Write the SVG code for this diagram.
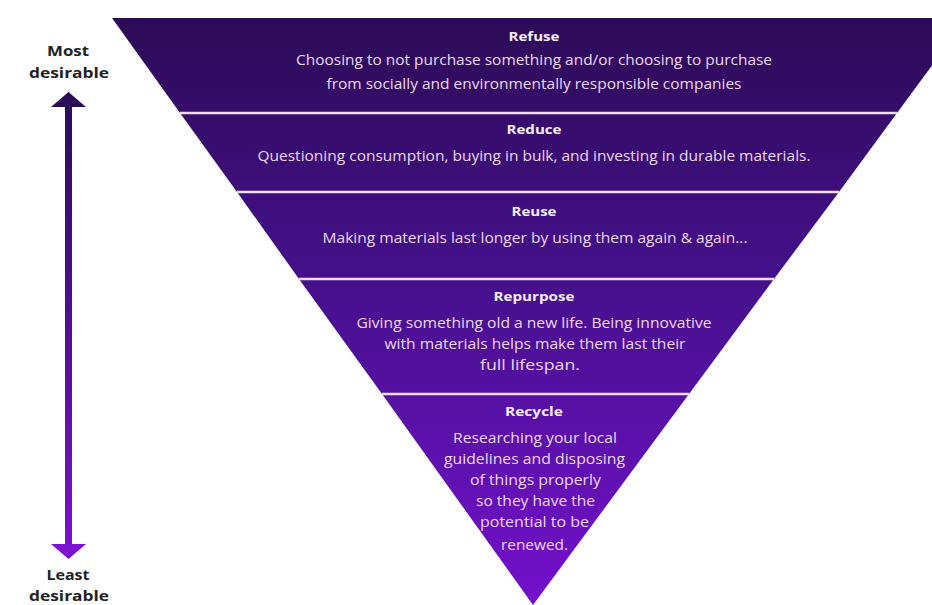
<svg xmlns="http://www.w3.org/2000/svg" width="932" height="605" viewBox="0 0 932 605">
<defs>
<linearGradient id="tri" gradientUnits="userSpaceOnUse" x1="0" y1="18" x2="0" y2="605">
<stop offset="0" stop-color="#2c0b57"/>
<stop offset="0.45" stop-color="#45108c"/>
<stop offset="1" stop-color="#7410cc"/>
</linearGradient>
<linearGradient id="arr" gradientUnits="userSpaceOnUse" x1="0" y1="92" x2="0" y2="560">
<stop offset="0" stop-color="#2c0b57"/>
<stop offset="1" stop-color="#7a12d0"/>
</linearGradient>
</defs>
<style>
.band{fill:url(#tri)}
.sep{stroke:#f2dcf2;stroke-width:2.5}
.t{font-family:"Open Sans","Liberation Sans",sans-serif;font-weight:700;font-size:13px;fill:#f6eef8;text-anchor:middle}
.b{font-family:"Open Sans","Liberation Sans",sans-serif;font-weight:500;font-size:14px;fill:#ecd8f0;text-anchor:middle}
.lab{font-family:"Open Sans","Liberation Sans",sans-serif;font-weight:700;font-size:14.5px;fill:#222;text-anchor:middle}
</style>
<rect width="932" height="605" fill="#ffffff"/>
<g id="refuse">
<polygon class="band" points="112,18 967,18 897,113 180,113"/>
<text class="t" x="534" y="41" textLength="51" lengthAdjust="spacingAndGlyphs">Refuse</text>
<text class="b" x="534" y="65" textLength="476" lengthAdjust="spacingAndGlyphs">Choosing to not purchase something and/or choosing to purchase</text>
<text class="b" x="534" y="89" textLength="415" lengthAdjust="spacingAndGlyphs">from socially and environmentally responsible companies</text>
</g>
<g id="reduce">
<polygon class="band" points="180,113 897,113 839,192 237,192"/>
<text class="t" x="534" y="134" textLength="55" lengthAdjust="spacingAndGlyphs">Reduce</text>
<text class="b" x="534" y="161" textLength="553" lengthAdjust="spacingAndGlyphs">Questioning consumption, buying in bulk, and investing in durable materials.</text>
</g>
<g id="reuse">
<polygon class="band" points="237,192 839,192 774,279 299,279"/>
<text class="t" x="534" y="216" textLength="45" lengthAdjust="spacingAndGlyphs">Reuse</text>
<text class="b" x="535" y="243" textLength="425" lengthAdjust="spacingAndGlyphs">Making materials last longer by using them again &amp; again...</text>
</g>
<g id="repurpose">
<polygon class="band" points="299,279 774,279 689,394 382,394"/>
<text class="t" x="534" y="301" textLength="81" lengthAdjust="spacingAndGlyphs">Repurpose</text>
<text class="b" x="534" y="328" textLength="355" lengthAdjust="spacingAndGlyphs">Giving something old a new life. Being innovative</text>
<text class="b" x="535" y="349" textLength="301" lengthAdjust="spacingAndGlyphs">with materials helps make them last their</text>
<text class="b" x="530" y="370" textLength="100" lengthAdjust="spacingAndGlyphs">full lifespan.</text>
</g>
<g id="recycle">
<polygon class="band" points="382,394 689,394 533,605"/>
<text class="t" x="534" y="416" textLength="58" lengthAdjust="spacingAndGlyphs">Recycle</text>
<text class="b" x="535" y="443" textLength="164" lengthAdjust="spacingAndGlyphs">Researching your local</text>
<text class="b" x="534.5" y="464" textLength="181" lengthAdjust="spacingAndGlyphs">guidelines and disposing</text>
<text class="b" x="535.5" y="485" textLength="131" lengthAdjust="spacingAndGlyphs">of things properly</text>
<text class="b" x="535.5" y="506" textLength="119" lengthAdjust="spacingAndGlyphs">so they have the</text>
<text class="b" x="534.5" y="527" textLength="109" lengthAdjust="spacingAndGlyphs">potential to be</text>
<text class="b" x="534.5" y="550" textLength="67" lengthAdjust="spacingAndGlyphs">renewed.</text>
</g>
<g id="connectors">
<line class="sep" x1="180" y1="113" x2="897" y2="113"/>
<line class="sep" x1="237" y1="192" x2="839" y2="192"/>
<line class="sep" x1="299" y1="279" x2="774" y2="279"/>
<line class="sep" x1="382" y1="394" x2="689" y2="394"/>
</g>
<g id="axis">
<rect x="65" y="104" width="7" height="442" fill="url(#arr)"/>
<polygon points="68.5,92 86,107 51,107" fill="#2c0b57"/>
<polygon points="68.5,559 86,544 51,544" fill="#7a12d0"/>
<text class="lab" x="68" y="56" textLength="42" lengthAdjust="spacingAndGlyphs">Most</text>
<text class="lab" x="69" y="78" textLength="80" lengthAdjust="spacingAndGlyphs">desirable</text>
<text class="lab" x="68" y="580" textLength="43" lengthAdjust="spacingAndGlyphs">Least</text>
<text class="lab" x="69" y="601" textLength="80" lengthAdjust="spacingAndGlyphs">desirable</text>
</g>
</svg>
